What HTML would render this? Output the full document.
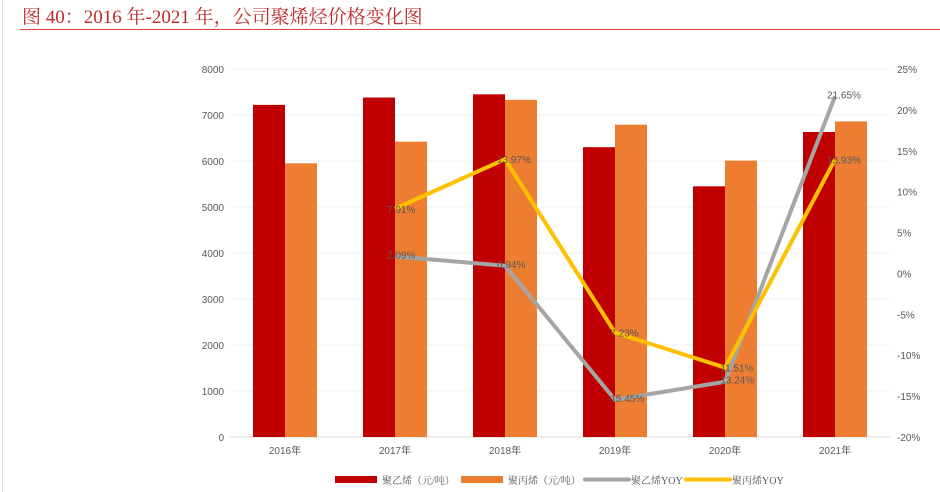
<!DOCTYPE html>
<html><head><meta charset="utf-8"><style>
body{margin:0;background:#fff;width:940px;height:492px;overflow:hidden;font-family:"Liberation Sans","Noto Sans CJK SC",sans-serif}
</style></head><body>
<div style="position:absolute;left:2px;top:0;width:1px;height:492px;background:#ddd"></div>
<div style="position:absolute;left:22px;top:2px;font-family:'Liberation Serif','Noto Serif CJK SC',serif;font-size:19px;color:#c0292b">图 40：2016 年-2021 年，公司聚烯烃价格变化图</div>
<div style="position:absolute;left:20px;top:29px;width:920px;height:1px;background:#d44"></div>
<svg id="c" width="940" height="492" style="position:absolute;left:0;top:0"></svg>
<script>
const categories=["2016年","2017年","2018年","2019年","2020年","2021年"];
const peValues=[7220,7380,7450,6300,5450,6630];
const ppValues=[5950,6420,7330,6790,6010,6860];
const peYoy=[null,2.09,0.94,-15.45,-13.24,21.65];
const ppYoy=[null,7.91,13.97,-7.23,-11.51,13.93];
const leftTicks=[0,1000,2000,3000,4000,5000,6000,7000,8000];
const rightTicks=[-20,-15,-10,-5,0,5,10,15,20,25];
const svg=document.getElementById('c');const NS='http://www.w3.org/2000/svg';
function mk(t,a,txt){const e=document.createElementNS(NS,t);for(const k in a)e.setAttribute(k,a[k]);if(txt!=null)e.textContent=txt;svg.appendChild(e);return e;}
const x0=230,band=110,yTop=69,yBot=437;
const yL=v=>yBot-(v/8000)*(yBot-yTop);
const yR=v=>yBot-((v+20)/45)*(yBot-yTop);
const xc=i=>x0+band*(i+0.5);
leftTicks.forEach(v=>{
 const g=mk('line',{x1:x0,x2:890,y1:yL(v),y2:yL(v),stroke:v===0?'#d9d9d9':'#f0f0f0','stroke-width':1});
 
 const t=mk('text',{x:224,y:yL(v)+4,'text-anchor':'end','font-size':10,fill:'#595959'},v);
 
});
rightTicks.forEach(v=>{
 const t=mk('text',{x:897,y:yR(v)+4,'font-size':10,fill:'#595959'},v+'%');
 
});
categories.forEach((c,i)=>{
 const t=mk('text',{x:xc(i),y:454,'text-anchor':'middle','font-size':10,fill:'#595959'},c);
 
 const b1=mk('rect',{x:xc(i)-32,y:yL(peValues[i]),width:32,height:yBot-yL(peValues[i]),fill:'#c00000'});
 
 const b2=mk('rect',{x:xc(i),y:yL(ppValues[i]),width:32,height:yBot-yL(ppValues[i]),fill:'#ed7d31'});
 
});
function line(arr,color,name,dx,dy){
 const pts=[];arr.forEach((v,i)=>{if(v!=null)pts.push(xc(i)+','+yR(v));});
 const p=mk('polyline',{points:pts.join(' '),fill:'none',stroke:color,'stroke-width':4,'stroke-linejoin':'round'});
 
 arr.forEach((v,i)=>{if(v==null)return;
  const t=mk('text',{x:xc(i)+dx,y:yR(v)+dy,'font-size':10,fill:'#595959'},v.toFixed(2)+'%');
  });
}
line(peYoy,'#a5a5a5','pe-yoy-line',-8,2);
line(ppYoy,'#ffc000','pp-yoy-line',-8,4);
const lg=[['rect','#c00000','聚乙烯（元/吨）',335],['rect','#ed7d31','聚丙烯（元/吨）',461],['line','#a5a5a5','聚乙烯YOY',585],['line','#ffc000','聚丙烯YOY',686]];
lg.forEach(([k,col,txt,x])=>{
 const s=k==='rect'?mk('rect',{x:x,y:476,width:42,height:7,fill:col}):mk('line',{x1:x,x2:x+44,y1:479.5,y2:479.5,stroke:col,'stroke-width':4,'stroke-linecap':'round'});
 
 const t=mk('text',{x:x+(k==='rect'?47:46),y:484,'font-size':10,fill:'#595959','font-family':'Liberation Serif,Noto Serif CJK SC,serif'},txt);
 
});
</script>
</body></html>
